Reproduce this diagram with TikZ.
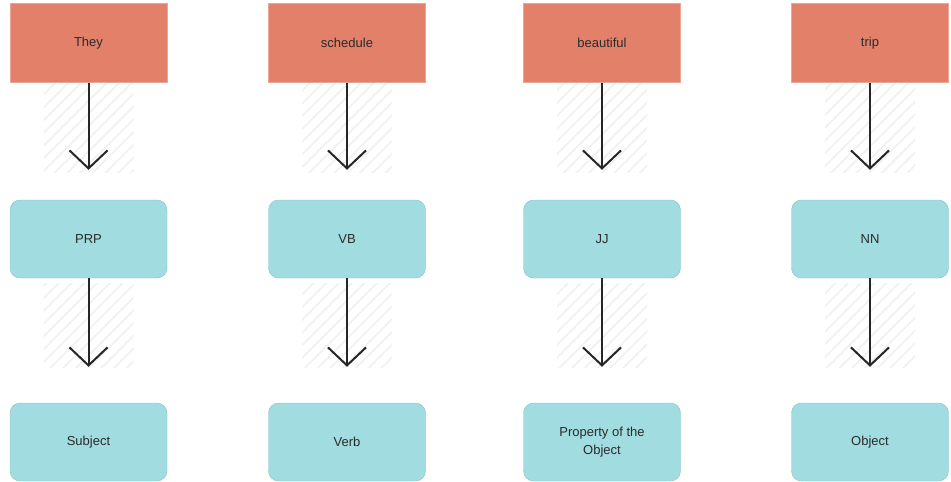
\documentclass[tikz,border=0pt]{standalone}
\usepackage{fontspec}
\setmainfont{Liberation Sans}
\usetikzlibrary{arrows.meta,patterns.meta}
\definecolor{wordfill}{HTML}{E2806A}
\definecolor{wordline}{HTML}{EBA595}
\definecolor{tagfill}{HTML}{A0DCE0}
\definecolor{tagline}{HTML}{86C3C8}
\definecolor{txt}{HTML}{2B2B2B}
\definecolor{hatchc}{HTML}{F1F1F1}
\tikzset{
  wordbox/.style={rectangle,draw=wordline,fill=wordfill,minimum width=157pt,minimum height=79pt,inner sep=0pt,text=txt,font=\fontsize{13}{15}\selectfont},
  tagbox/.style={rectangle,rounded corners=10pt,draw=tagline,fill=tagfill,minimum width=157pt,minimum height=78pt,inner sep=0pt,text=txt,align=center,font=\fontsize{13}{18}\selectfont},
  flow/.style={draw=black!85,line width=2pt,-{Straight Barb[length=18pt,width=38pt,line width=2pt]}},
  hatchzone/.style={pattern={Lines[angle=45,distance=9pt,line width=1.8pt]},pattern color=hatchc,draw=none}
}
\begin{document}
\begin{tikzpicture}[x=1pt,y=-1pt]
\useasboundingbox (0,0) rectangle (951,482);
\foreach \cx in {88.5,347,602,870}{
  \fill[hatchzone] (\cx-45,83) rectangle (\cx+45,172);
  \fill[hatchzone] (\cx-45,283) rectangle (\cx+45,367);
}
\node[wordbox] (w1) at (88.5,43) {They};
\node[wordbox] (w2) at (347,43) {schedule};
\node[wordbox] (w3) at (602,43) {beautiful};
\node[wordbox] (w4) at (870,43) {trip};
\node[tagbox] (t1) at (88.5,239) {PRP};
\node[tagbox] (t2) at (347,239) {VB};
\node[tagbox] (t3) at (602,239) {JJ};
\node[tagbox] (t4) at (870,239) {NN};
\node[tagbox] (r1) at (88.5,442) {Subject};
\node[tagbox] (r2) at (347,442) {Verb};
\node[tagbox] (r3) at (602,442) {Property of the\\Object};
\node[tagbox] (r4) at (870,442) {Object};
\foreach \i in {1,2,3,4}{
  \draw[flow,shorten >=30pt] (w\i) -- (t\i);
  \draw[flow,shorten >=36pt] (t\i) -- (r\i);
}
\end{tikzpicture}
\end{document}
